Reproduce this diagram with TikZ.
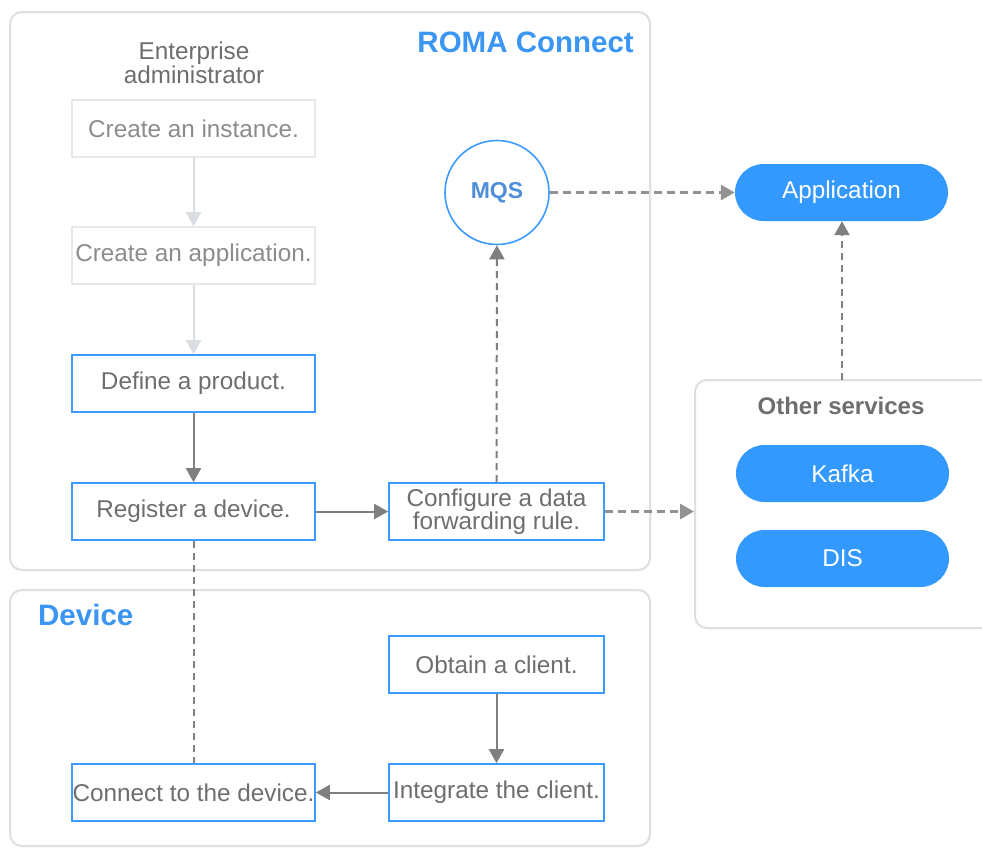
\documentclass[tikz,border=0pt]{standalone}
\usepackage{fontspec}
\setmainfont{Liberation Sans}
\usetikzlibrary{arrows.meta}
\definecolor{boxblue}{HTML}{3D9BFF}
\definecolor{pillblue}{HTML}{3399FF}
\definecolor{titleblue}{HTML}{3A96F2}
\definecolor{mqsblue}{HTML}{4F8FD8}
\definecolor{txtgray}{HTML}{6E6E6E}
\definecolor{fadegray}{HTML}{8C8C8C}
\definecolor{framegray}{HTML}{DEDFE2}
\definecolor{fadeline}{HTML}{DADDE2}
\definecolor{linegray}{HTML}{7F7F7F}
\tikzset{
  x=1pt, y=-1pt,
  frame/.style={draw=framegray, line width=2pt, rounded corners=12pt},
  basebox/.style={rectangle, inner sep=0pt, minimum height=57pt, text=txtgray,
    font=\fontsize{24.3}{26}\selectfont, align=center},
  stepbox/.style={basebox, draw=boxblue, line width=1.6pt, fill=white},
  fadebox/.style={basebox, draw=fadeline!70!white, line width=1.6pt, fill=white, text=fadegray},
  pill/.style={rectangle, rounded corners=28.5pt, fill=pillblue, text=white,
    minimum width=213pt, minimum height=57pt, inner sep=0pt,
    font=\fontsize{24.3}{26}\selectfont},
  solidarrow/.style={draw=linegray, line width=2pt, -{Triangle[length=14pt,width=15pt]}},
  fadearrow/.style={draw=fadeline, line width=2pt, -{Triangle[length=14pt,width=15pt]}},
  dasharrow/.style={draw=linegray!85!white, line width=3pt, dash pattern=on 8pt off 5pt,
    -{Triangle[length=14pt,width=15pt]}},
  vdasharrow/.style={draw=linegray, line width=2pt, dash pattern=on 7pt off 5pt,
    -{Triangle[length=14pt,width=15pt]}},
  vdashline/.style={draw=linegray, line width=2pt, dash pattern=on 7pt off 5pt},
  title/.style={text=titleblue, font=\bfseries\fontsize{29.5}{32}\selectfont, inner sep=0pt},
}
\begin{document}
\begin{tikzpicture}
\useasboundingbox (0,0) rectangle (982,849);
\fill[white] (0,0) rectangle (982,849);

% containers
\draw[frame] (10,12) rectangle (650,570);
\draw[frame] (10,590) rectangle (650,846);
\draw[frame] (695,380) rectangle (1010,628);

% titles
\node[title, anchor=east] (troma) at (634,42) {ROMA Connect};
\node[title, anchor=west] (tdev) at (38,615) {Device};
\node[text=txtgray, font=\bfseries\fontsize{24}{26}\selectfont, inner sep=0pt] (tother) at (841,406) {Other services};
\node[text=txtgray, font=\fontsize{24.3}{24}\selectfont, align=center, inner sep=0pt] (admin) at (194,63) {Enterprise\\administrator};

% steps
\node[fadebox, minimum width=243pt] (inst) at (193.5,128.5) {Create an instance.};
\node[fadebox, minimum width=243pt] (app1) at (193.5,255.5) {Create an application.};
\node[stepbox, minimum width=243pt] (prod) at (193.5,383.5) {Define a product.};
\node[stepbox, minimum width=243pt] (reg) at (193.5,511.5) {Register a device.};
\node[stepbox, minimum width=215pt, font=\fontsize{24.3}{23}\selectfont] (cfg) at (496.5,511.5) {Configure a data\\forwarding rule.};
\node[stepbox, minimum width=215pt] (obt) at (496.5,664.5) {Obtain a client.};
\node[stepbox, minimum width=215pt] (integ) at (496.5,792.5) {Integrate the client.};
\node[stepbox, minimum width=243pt] (conn) at (193.5,792.5) {Connect to the device.};

% MQS
\node[circle, draw=boxblue, line width=1.6pt, minimum size=104pt, inner sep=0pt,
  text=mqsblue, font=\bfseries\fontsize{23}{24}\selectfont] (mqs) at (497,192.5) {MQS};

% pills
\node[pill] (appl) at (841.5,192.5) {Application};
\node[pill] (kafka) at (842.5,473.5) {Kafka};
\node[pill] (dis) at (842.5,558.5) {DIS};

\coordinate (othtop) at (842,380);
\coordinate (othleft) at (694,511.5);

% connectors
\draw[fadearrow] (inst) -- (app1);
\draw[fadearrow] (app1) -- (prod);
\draw[solidarrow] (prod) -- (reg);
\draw[solidarrow] (reg) -- (cfg);
\draw[vdasharrow] (cfg) -- (mqs);
\draw[dasharrow] (mqs) -- (appl);
\draw[dasharrow] (cfg.east) -- (othleft);
\draw[vdasharrow] (othtop) -- (appl.south -| othtop);
\draw[vdashline] (reg) -- (conn);
\draw[solidarrow] (obt) -- (integ);
\draw[solidarrow] (integ) -- (conn);
\end{tikzpicture}
\end{document}
